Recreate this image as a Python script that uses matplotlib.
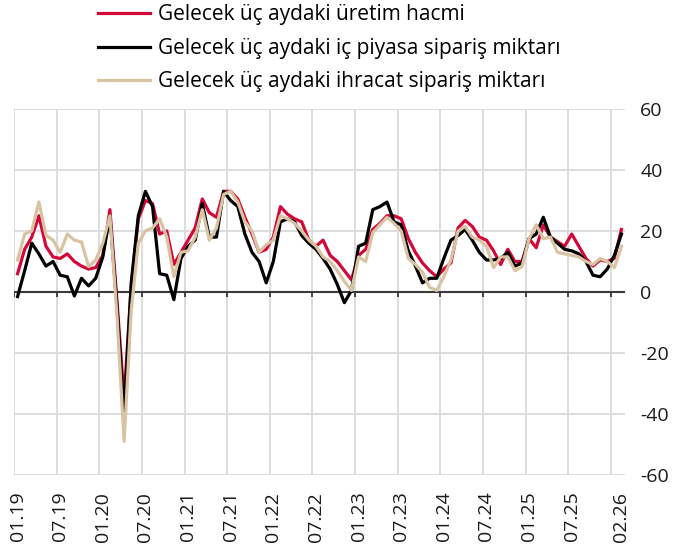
import matplotlib
matplotlib.use("Agg")
import matplotlib.pyplot as plt
import numpy as np
import pandas as pd

plt.rcParams['font.family'] = ['Open Sans', 'DejaVu Sans']
plt.rcParams['axes.unicode_minus'] = False  # "-60" kısa tire ile

# aylar: 01.2019 - 02.2026
months = pd.date_range('2019-01-01', '2026-02-01', freq='MS').strftime('%m.%y').tolist()

uretim = [6, 14, 18, 25, 15, 11.5, 11, 12.5, 10, 8.5, 7.5, 8, 12, 27,
          -3, -35, 2, 24, 30, 29, 19, 20, 9, 13, 17, 21, 30.5, 26, 24.5,
          33, 33, 30.5, 24.5, 19, 13, 14, 18, 28, 25.5, 24, 23,
          17, 15, 17, 12, 10, 7, 4, 12, 14, 20.5, 22.5, 25, 25, 24,
          17.5, 13, 9.5, 7, 5, 7.5, 9.5, 21, 23.5, 21.5, 18, 17, 13.5, 9, 14,
          10, 10, 17.5, 14.5, 22, 18, 16.5, 15, 19, 15, 11, 8.5, 10.5, 10, 11, 20.5]

ic_siparis = [-1.5, 7, 16, 12.5, 8.5, 10, 5.5, 5, -1.3, 4.5, 2, 4.5, 11.5, 25,
              -5, -40, 3, 25, 33, 28, 6, 5.5, -2.5, 11, 15, 17, 29, 18, 18,
              33, 30, 28, 19, 13, 10, 3, 10, 23, 24, 23, 18.5,
              16, 14, 11, 7.5, 2.5, -3.5, 0.5, 15, 16, 27, 28, 29.5, 23, 22,
              13.5, 8.5, 3, 4.5, 4.5, 11, 17, 18.5, 20.5, 17, 13, 10.5, 10.5, 11, 13,
              8.5, 9.5, 17.5, 19, 24.5, 18, 16, 14, 13.5, 12.5, 10, 5.5, 5, 7.5, 12, 19]

ihracat = [10.5, 19, 20, 29.5, 18.6, 17, 13, 19, 17, 16.4, 8.3, 10.5, 16, 25,
           -8, -49, -6, 16, 20, 21, 24, 18, 5, 13, 13.5, 18, 27, 17, 21,
           32, 33, 29.5, 23, 20, 13, 15.5, 17, 25, 24, 22.5, 20,
           17, 15, 11.5, 10, 7, 3.5, 0.5, 11.5, 10, 19.5, 22, 24.5, 22.5, 20,
           11, 9, 6.5, 1.5, 0.5, 5, 10.5, 20, 21.5, 18, 17, 15, 8, 11.5, 11.5,
           7, 8.3, 17.5, 22, 17.5, 18, 13, 12.5, 12, 11.5, 10, 9, 11, 10, 8, 15]

seriler = ['Gelecek üç aydaki üretim hacmi',
           'Gelecek üç aydaki iç piyasa sipariş miktarı',
           'Gelecek üç aydaki ihracat sipariş miktarı']
renkler = ['#D4073A', '#000000', '#D8C3A2']

fig = plt.figure(figsize=(6.79, 5.58), dpi=100)
ax = fig.add_axes([14 / 679, 1 - 475 / 558, 611 / 679, 366 / 558])

x = np.arange(len(months)) + 0.5
for vals, lab, c in zip([uretim, ic_siparis, ihracat], seriler, renkler):
    ax.plot(x, vals, color=c, lw=2.3, label=lab, solid_joinstyle='round', zorder=3)

ax.set_xlim(0, len(months))
ax.set_ylim(-60, 60)
ax.set_yticks(range(-60, 61, 20))
ax.yaxis.tick_right()
ax.tick_params(axis='y', length=0, pad=11, labelsize=14, colors='#1a1a1a')

# ay sınırları (grid) ve etiketler
sinirlar = np.arange(0, len(months), 6)
ax.set_xticks(sinirlar, minor=True)
etiket_idx = list(range(0, len(months) - 2, 6)) + [len(months) - 1]
ax.set_xticks(x[etiket_idx])
ax.set_xticklabels([months[i] for i in etiket_idx], rotation=90, fontsize=14, color='#1a1a1a')
ax.tick_params(axis='x', which='both', length=0, pad=12)
ax.grid(True, axis='x', which='minor', color='#DADADA', lw=1.3)
ax.grid(True, axis='y', color='#DADADA', lw=1.3)
ax.set_axisbelow(True)
for s in ax.spines.values():
    s.set_visible(False)

# sıfır çizgisi ve küçük tik işaretleri
ax.axhline(0, color='#3a3a3a', lw=1.5, zorder=2)
ax.vlines(sinirlar, -1.7, 0, color='#3a3a3a', lw=1.3, zorder=2)

fig.legend(loc='upper left', bbox_to_anchor=(90 / 679, 1.007), frameon=False,
           fontsize=15, handlelength=2.5, handletextpad=0.34, labelspacing=0.6,
           borderaxespad=0)

plt.savefig('out.png', dpi=100)
